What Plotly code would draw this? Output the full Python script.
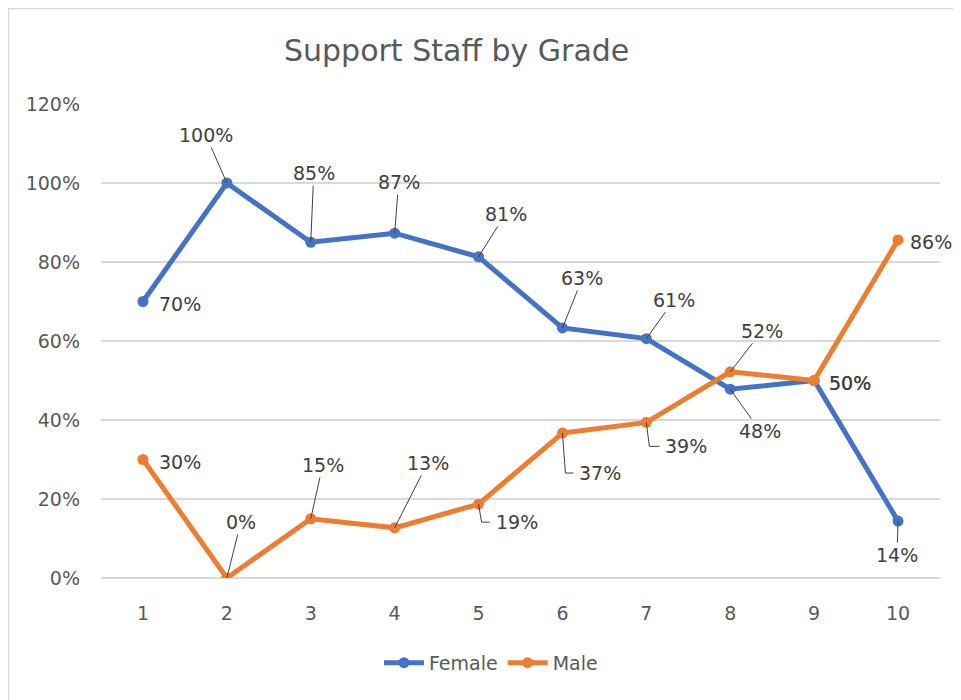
import plotly.graph_objects as go

grades = [1, 2, 3, 4, 5, 6, 7, 8, 9, 10]
female = [0.70, 1.00, 0.85, 0.873, 0.813, 0.633, 0.606, 0.478, 0.50, 0.144]
male = [0.30, 0.00, 0.15, 0.127, 0.187, 0.367, 0.394, 0.522, 0.50, 0.856]

BLUE = '#4472C4'
ORANGE = '#ED7D31'
GREY = '#595959'
LABEL = '#404040'
FONT = 'DejaVu Sans'

# label offsets (px): (dx, dy down, leader) ; leader: 'line', 'elbow' or None
female_pos = [(37, 2, None), (-21, -48, 'line'), (3, -69, 'line'), (4, -51, 'line'),
              (27, -43, 'line'), (20, -50, 'line'), (28, -39, 'line'), (30, 42, 'line'),
              (36, 2, None), (-1, 34, 'line')]
male_pos = [(37, 2, None), (14, -56, 'line'), (12, -54, 'line'), (33, -65, 'line'),
            (38, 18, 'elbow'), (38, 40, 'elbow'), (40, 24, 'elbow'), (32, -41, 'line'),
            (36, 2, None), (33, 2, None)]

fig = go.Figure()
for name, vals, color in [('Female', female, BLUE), ('Male', male, ORANGE)]:
    fig.add_trace(go.Scatter(
        x=grades, y=vals, mode='lines+markers', name=name,
        line=dict(color=color, width=5),
        marker=dict(color=color, size=11),
        hoverinfo='skip'
    ))

annotations = []
shapes = []
for vals, pos in [(female, female_pos), (male, male_pos)]:
    for g, v, (dx, dy, leader) in zip(grades, vals, pos):
        text = f"{round(v * 100)}%"
        if leader == 'line':
            annotations.append(dict(
                x=g, y=v, text=text, showarrow=True, arrowhead=0, arrowwidth=1,
                arrowcolor=LABEL, ax=dx, ay=dy, standoff=0,
                font=dict(family=FONT, size=19, color=LABEL)
            ))
        else:
            annotations.append(dict(
                x=g, y=v, text=text, showarrow=False, xshift=dx, yshift=-dy,
                font=dict(family=FONT, size=19, color=LABEL)
            ))
            if leader == 'elbow':
                shapes.append(dict(
                    type='path', xref='x', yref='y', xsizemode='pixel', ysizemode='pixel',
                    xanchor=g, yanchor=v,
                    path=f"M0,0 L3,{-dy} L{dx - 27},{-dy}",
                    line=dict(color=LABEL, width=1)
                ))

# chart border
shapes.append(dict(type='rect', xref='paper', yref='paper', x0=-0.1103, x1=1.2,
                   y0=-0.4, y1=1.2015, line=dict(color='#D9D9D9', width=1.5), layer='below'))

fig.update_layout(
    width=953, height=692,
    paper_bgcolor='white', plot_bgcolor='white',
    margin=dict(l=93, r=21, t=96, b=122),
    title=dict(text='Support Staff by Grade', x=0.4708, xanchor='center', y=0.939, yanchor='middle',
               font=dict(family=FONT, size=30, color=GREY)),
    xaxis=dict(range=[0.5, 10.5], tickvals=grades, showgrid=False, zeroline=False,
               showline=False, ticks='', ticklabelstandoff=22,
               tickfont=dict(family=FONT, size=19, color=GREY)),
    yaxis=dict(range=[0, 1.2], dtick=0.2, tickformat='.0%', showgrid=True,
               gridcolor='#D9D9D9', gridwidth=1.5, zeroline=True, zerolinecolor='#D9D9D9',
               zerolinewidth=1.5, showline=False, ticks='', ticklabelstandoff=20,
               tickfont=dict(family=FONT, size=19, color=GREY)),
    legend=dict(orientation='h', x=0.4648, xanchor='center', y=-0.179, yanchor='middle',
                itemwidth=40, font=dict(family=FONT, size=19, color=GREY)),
    annotations=annotations,
    shapes=shapes,
    showlegend=True
)

fig.write_html("out.html")
